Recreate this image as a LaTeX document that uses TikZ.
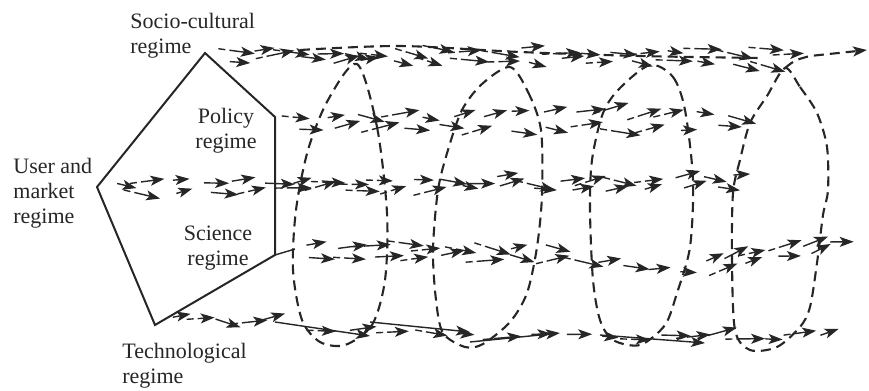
\documentclass[tikz,border=0pt]{standalone}
\usepackage{fontspec}
\setmainfont{Liberation Serif}
\usetikzlibrary{arrows.meta}
\colorlet{ink}{black!85}
\newcommand\arrowrow[5]{%
  \foreach \i in {1,...,#5}{%
    \pgfmathsetmacro\xx{#1+(\i-0.5)/#5*(#3-#1)+rand*4}%
    \pgfmathsetmacro\yy{#2+(\i-0.5)/#5*(#4-#2)+rand*4}%
    \pgfmathsetmacro\aa{rand*18+atan2(#4-#2,#3-#1)}%
    \pgfmathsetmacro\ll{16+rnd*14}%
    \pgfmathtruncatemacro\dd{rnd<0.45 ? 1 : 0}%
    \draw[arr] (\xx,\yy) -- ++(\aa:\ll);
    \ifnum\dd=1 \draw[shaft] (\xx,\yy) ++(\aa:-11) -- ++(\aa:7);\fi
  }}
\begin{document}
\begin{tikzpicture}[x=0.5pt,y=-0.5pt,
  lab/.style={font=\fontsize{11}{12.5}\selectfont, inner sep=0pt, text=ink},
  frame/.style={draw=ink, line width=1pt, line join=miter},
  tube/.style={draw=ink, line width=1.05pt, dash pattern=on 5pt off 3pt},
  tip/.style={-{Stealth[length=7pt,width=5pt,inset=1.7pt]}},
  arr/.style={draw=ink, line width=0.7pt, tip},
  shaft/.style={draw=ink, line width=0.7pt},
]
\useasboundingbox (0,0) rectangle (869,391);
\pgfmathsetseed{11}

% pentagon
\coordinate (sc) at (205,53);
\coordinate (po) at (275,117);
\coordinate (si) at (275,255);
\coordinate (te) at (155,325);
\coordinate (um) at (97,187);
\draw[frame] (sc) -- (po) -- (si) -- (te) -- (um) -- cycle;

% labels
\node[lab, anchor=north west, align=left] (lsc) at (130,13) {Socio-cultural\\regime};
\node[lab, anchor=north, align=center] (lpo) at (226,108) {Policy\\regime};
\node[lab, anchor=north west, align=left] (lum) at (13,158) {User and\\market\\regime};
\node[lab, anchor=north, align=center] (lsi) at (218,226) {Science\\regime};
\node[lab, anchor=north west, align=left] (lte) at (122,343) {Technological\\regime};

% dashed tube loops
\draw[tube] plot[smooth cycle] coordinates {(357,64) (377,127) (387,213) (385,280) (372,325) (345,345) (320,342) (302,320) (293,270) (296,210) (308,150) (328,100)};
\draw[tube] plot[smooth cycle] coordinates {(510,67) (528,92) (541,130) (542,195) (537,247) (527,293) (510,322) (483,344) (465,347) (443,333) (436,300) (433,250) (438,190) (448,150) (462,110) (482,84)};
\draw[tube] plot[smooth cycle] coordinates {(650,65) (673,77) (685,110) (693,180) (690,247) (677,293) (665,325) (640,345) (613,340) (600,320) (593,280) (590,210) (592,160) (603,113) (620,88)};
\draw[tube] plot[smooth cycle] coordinates {(785,68) (800,87) (817,113) (827,147) (828,190) (823,215) (817,263) (810,307) (800,327) (777,347) (750,350) (735,330) (732,260) (733,193) (740,160) (750,123) (767,96)};
\coordinate (tubeend) at (867,50);
\draw[tube, tip] (785,68) .. controls (795,60) .. (810,56) -- (tubeend);
\draw[tube] plot[smooth] coordinates {(300,50) (400,46) (520,52) (640,56) (760,58)};

% socio-cultural row
\arrowrow{212}{50}{800}{52}{20}
\arrowrow{215}{60}{780}{62}{17}
% policy row
\arrowrow{280}{116}{745}{112}{15}
\arrowrow{285}{128}{735}{128}{13}
% user and market row
\arrowrow{100}{182}{750}{178}{22}
\arrowrow{120}{191}{735}{188}{17}
% science row
\draw[shaft] (si) -- (295,249);
\arrowrow{290}{246}{560}{246}{9}
\arrowrow{295}{258}{560}{258}{8}
\arrowrow{560}{262}{690}{270}{5}
\arrowrow{690}{262}{840}{236}{6}
\arrowrow{700}{276}{830}{250}{4}
% technological row
\arrowrow{160}{320}{275}{322}{5}
\draw[arr] (275,322) -- (370,336);
\draw[arr] (370,322) -- (470,332);
\draw[arr] (470,342) -- (560,333);
\draw[arr] (600,335) -- (705,343);
\arrowrow{300}{330}{620}{340}{9}
\arrowrow{620}{340}{830}{333}{8}
\end{tikzpicture}
\end{document}
